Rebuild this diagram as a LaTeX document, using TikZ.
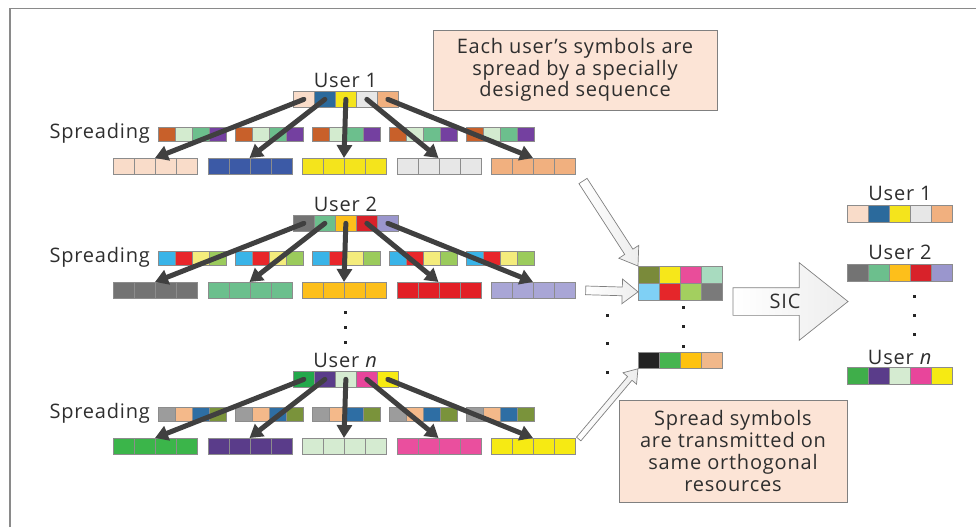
\documentclass[tikz,border=0pt]{standalone}
\usepackage{fontspec}
\setmainfont{Open Sans}[LetterSpace=4]
\usetikzlibrary{arrows.meta,shapes.arrows,calc}

% symbol colours
\definecolor{pkA}{HTML}{F9DCC9}
\definecolor{blA}{HTML}{2B6A9C}
\definecolor{blB}{HTML}{3C5AA6}
\definecolor{ylA}{HTML}{F4E41C}
\definecolor{lgA}{HTML}{E7E7E7}
\definecolor{pcA}{HTML}{F1B07F}
\definecolor{orA}{HTML}{C8602A}
\definecolor{mtA}{HTML}{D3EBCF}
\definecolor{gnA}{HTML}{6CBF8D}
\definecolor{ppA}{HTML}{7440A0}
\definecolor{gyA}{HTML}{737373}
\definecolor{amA}{HTML}{FDBF1B}
\definecolor{rdA}{HTML}{D8222A}
\definecolor{rdB}{HTML}{E21F26}
\definecolor{lvA}{HTML}{9A96CD}
\definecolor{lvB}{HTML}{A9A6D6}
\definecolor{skA}{HTML}{39B4E8}
\definecolor{rdC}{HTML}{E8262A}
\definecolor{ylB}{HTML}{F4EC7C}
\definecolor{lmA}{HTML}{9BCB5C}
\definecolor{gnB}{HTML}{23A84B}
\definecolor{gnC}{HTML}{3BB54A}
\definecolor{ppB}{HTML}{5A3C8A}
\definecolor{mtB}{HTML}{D5EBD1}
\definecolor{pnA}{HTML}{E8459B}
\definecolor{pnB}{HTML}{EA4F9E}
\definecolor{ylC}{HTML}{F6EA13}
\definecolor{gyB}{HTML}{9C9C9C}
\definecolor{pcB}{HTML}{F4B98A}
\definecolor{blC}{HTML}{2E6EA4}
\definecolor{olA}{HTML}{7A933B}
% superposed resource grid
\definecolor{olB}{HTML}{7A8A3A}
\definecolor{ylD}{HTML}{F6E71A}
\definecolor{pnC}{HTML}{E94D9A}
\definecolor{mtC}{HTML}{A8DBBF}
\definecolor{skB}{HTML}{7FD0F5}
\definecolor{rdD}{HTML}{E5262A}
\definecolor{lmB}{HTML}{A3CF5F}
\definecolor{gyC}{HTML}{7A7A7A}
\definecolor{bkA}{HTML}{222222}
\definecolor{gnD}{HTML}{46B550}
\definecolor{amB}{HTML}{FEC20F}
\definecolor{pcC}{HTML}{F1B88A}
\definecolor{gnE}{HTML}{3FAE4A}
% boxes and lines
\definecolor{notefill}{HTML}{FCE4D6}
\definecolor{ink}{HTML}{2E2E2E}
\definecolor{framegray}{HTML}{8A8A8A}

\tikzset{
  cellbase/.style={draw=black!45, line width=0.7pt, inner sep=0pt, anchor=north west},
  usercell/.style={cellbase, minimum width=21pt, minimum height=16pt},
  spreadcell/.style={cellbase, minimum width=17pt, minimum height=14pt},
  chipcell/.style={cellbase, minimum width=21pt, minimum height=16pt},
  gridcell/.style={cellbase, minimum width=21pt, minimum height=17pt},
  lbl/.style={font=\fontsize{20}{22}\selectfont, text=ink, inner sep=0pt},
  mapping/.style={draw=black!75, line width=5pt, line cap=round,
    -{Triangle[length=13pt,width=15pt]}},
  note/.style={draw=black!50, fill=notefill, line width=0.8pt, align=center,
    font=\fontsize{20}{21.7}\selectfont, text=ink, inner sep=0pt},
  hollow/.style={single arrow, draw=black!50, line width=0.7pt, left color=white,
    right color=black!7, inner xsep=0pt, outer sep=0pt},
  dotmark/.style={fill=black!85, inner sep=0pt, minimum size=3pt, rectangle},
}

% one user: caption, symbols, spreading codes, spread chips and mapping arrows
% #1 vertical offset, #2 name prefix, #3 caption, #4 symbol colours,
% #5 code colours, #6 chip colours
\newcommand\userblock[6]{%
  \node[lbl] (#2lbl) at (345.5, #1+80) {#3};
  \node[lbl, anchor=east] (#2spr) at (150, #1+133) {Spreading};
  \foreach \k in {0,...,4}{
    \foreach \col [count=\j] in {#5}{
      \node[spreadcell, fill=\col] (#2s\k-\j) at ({158+77*\k+17*(\j-1)}, #1+127) {};
    }}
  \foreach \col [count=\i] in {#6}{
    \foreach \j in {1,...,4}{
      \node[chipcell, fill=\col] (#2c\i-\j) at ({113+94.5*(\i-1)+21*(\j-1)}, #1+158) {};
    }}
  \foreach \col [count=\i] in {#4}{
    \node[usercell, fill=\col] (#2u\i) at ({293+21*(\i-1)}, #1+91) {};
  }
  \foreach \i in {1,...,5}{
    \draw[mapping] (#2u\i.center) -- (#2c\i-3.north west);
  }%
}

% outlined arrow from a tail point to a tip point
\newcommand\hollowarrow[3]{%
  \path let \p1=(#2), \p2=(#3),
    \n1={atan2(\y2-\y1,\x2-\x1)}, \n2={veclen(\x2-\x1,\y2-\y1)} in
    node[hollow, #1, rotate=\n1, minimum height=\n2, anchor=tail] at (#2) {};
}

\begin{document}
\begin{tikzpicture}[x=1pt, y=-1pt]
\useasboundingbox (0,0) rectangle (976,527);

% frame
\draw[framegray, line width=1.6pt] (10,527) -- (10,8.5) -- (976,8.5);

% transmitters
\userblock{0}{a}{User 1}{pkA,blA,ylA,lgA,pcA}{orA,mtA,gnA,ppA}{pkA,blB,ylA,lgA,pcA}
\userblock{124}{b}{User 2}{gyA,gnA,amA,rdA,lvA}{skA,rdC,ylB,lmA}{gyA,gnA,amA,rdB,lvB}
\userblock{280}{n}{User \textit{n}}{gnB,ppB,mtB,pnA,ylC}{gyB,pcB,blC,olA}{gnC,ppB,mtB,pnB,ylC}

\foreach \y [count=\i] in {312,327,342} \node[dotmark] (ud\i) at (345,\y) {};

% superposed resources
\foreach \col [count=\j] in {olB,ylD,pnC,mtC}
  \node[gridcell, fill=\col] (ga\j) at ({638+21*(\j-1)}, 266) {};
\foreach \col [count=\j] in {skB,rdD,lmB,gyC}
  \node[gridcell, fill=\col] (gb\j) at ({638+21*(\j-1)}, 283) {};
\foreach \col [count=\j] in {bkA,gnD,amB,pcC}
  \node[chipcell, fill=\col] (gc\j) at ({638+21*(\j-1)}, 352) {};
\foreach \y [count=\i] in {307,326,346} \node[dotmark] (gd\i) at (683,\y) {};
\foreach \y [count=\i] in {315,343,372} \node[dotmark] (ld\i) at (607,\y) {};

% feeding arrows
\coordinate (tailA) at (583,181);
\coordinate (tailB) at ($(bc5-4.east)+(10,0)$);
\coordinate (tailC) at ($(nc5-4.north east)+(3,1)$);
\hollowarrow{inner ysep=4.5pt, single arrow head extend=7pt, single arrow tip angle=70}{tailA}{ga1.north west}
\hollowarrow{inner ysep=4pt, single arrow head extend=8pt, single arrow tip angle=76}{tailB}{gb1.west}
\hollowarrow{inner ysep=2.5pt, single arrow head extend=6pt, single arrow tip angle=70}{tailC}{gc1.south west}

% detection
\coordinate (sicTail) at (733,301.5);
\coordinate (sicTip) at (848,301.5);
\hollowarrow{inner ysep=13.5pt, single arrow head extend=25pt, single arrow tip angle=77}{sicTail}{sicTip}
\node[lbl] (sic) at (785,301) {SIC};

% recovered users
\node[lbl] (r1lbl) at (900,193) {User 1};
\foreach \col [count=\i] in {pkA,blA,ylA,lgA,pcA}
  \node[gridcell, fill=\col] (r1\i) at ({847+21*(\i-1)}, 205) {};
\node[lbl] (r2lbl) at (900,252) {User 2};
\foreach \col [count=\i] in {gyA,gnA,amA,rdA,lvA}
  \node[gridcell, fill=\col] (r2\i) at ({847+21*(\i-1)}, 264) {};
\foreach \y [count=\i] in {296,315,334} \node[dotmark] (rd\i) at (914,\y) {};
\node[lbl] (rnlbl) at (900,357) {User \textit{n}};
\foreach \col [count=\i] in {gnE,ppB,mtB,pnA,ylC}
  \node[gridcell, fill=\col] (rn\i) at ({847+21*(\i-1)}, 367) {};

% notes
\node[note, minimum width=284pt, minimum height=80pt] (noteA) at (575,70)
  {Each user’s symbols are\\spread by a specially\\designed sequence};
\node[note, minimum width=228pt, minimum height=102pt] (noteB) at (733,451)
  {Spread symbols\\are transmitted on\\same orthogonal\\resources};
\end{tikzpicture}
\end{document}
